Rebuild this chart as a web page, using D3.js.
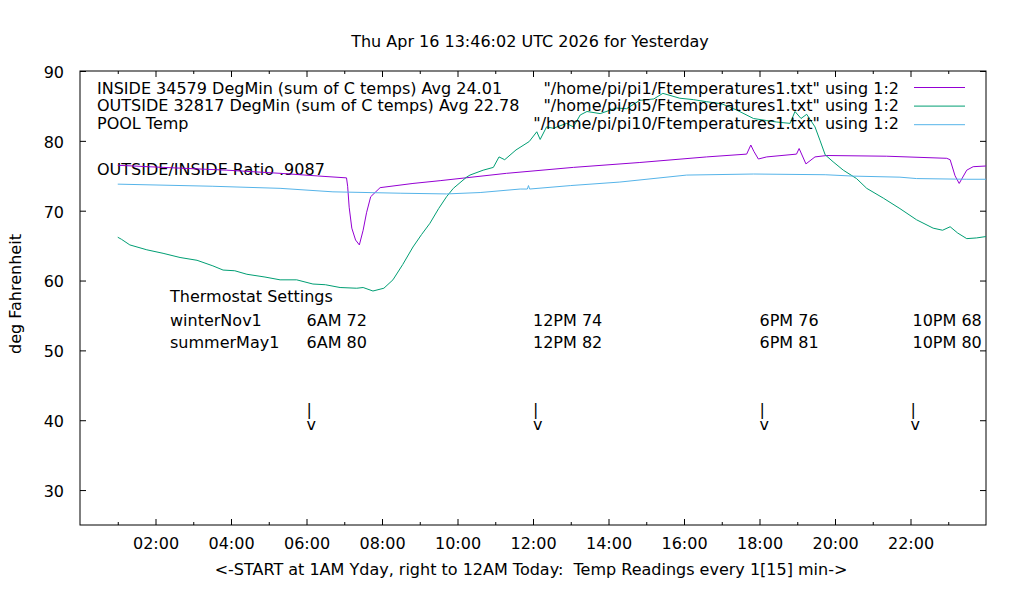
<!DOCTYPE html>
<html>
<head>
<meta charset="utf-8">
<script src="https://cdn.jsdelivr.net/npm/d3@7"></script>
<style>
  body { margin: 0; background: #fff; }
  svg { font-family: "DejaVu Sans", sans-serif; font-size: 16px; }
  text { fill: #000; white-space: pre; }
</style>
</head>
<body>
<div id="chart"></div>
<script>
// readings: [hour of day, deg F]
var insideTemps = [
  [1.00, 76.5], [2.20, 76.2], [3.89, 75.8], [5.30, 75.35], [6.49, 74.9], [7.06, 74.7],
  [7.09, 73.5], [7.13, 70.5], [7.20, 67.5], [7.30, 65.8], [7.40, 65.1], [7.50, 67.2], [7.59, 69.7],
  [7.70, 72.0], [7.95, 73.3], [8.82, 73.9], [9.54, 74.3], [11.30, 75.35], [13.07, 76.2],
  [14.83, 76.9], [16.60, 77.7], [17.66, 78.1], [17.77, 79.4], [17.85, 78.5], [17.97, 77.4],
  [18.19, 77.7], [18.98, 78.1], [19.05, 78.9], [19.23, 76.7], [19.47, 77.7], [19.78, 77.9],
  [21.37, 77.8], [22.96, 77.5], [23.05, 77.3], [23.18, 75.0], [23.29, 73.9], [23.49, 75.8],
  [23.66, 76.3], [24.00, 76.4]
];

var outsideTemps = [
  [1.00, 66.2], [1.10, 65.9], [1.32, 65.1], [1.77, 64.4], [2.20, 63.9], [2.65, 63.3],
  [3.10, 62.9], [3.52, 62.1], [3.79, 61.5], [4.10, 61.4], [4.42, 60.9], [4.90, 60.5],
  [5.30, 60.1], [5.74, 60.1], [6.17, 59.5], [6.50, 59.4], [6.89, 59.0], [7.33, 58.9],
  [7.50, 59.0], [7.76, 58.5], [8.05, 58.9], [8.29, 60.1], [8.55, 62.3], [8.82, 64.8],
  [9.05, 66.6], [9.27, 68.2], [9.50, 70.3], [9.71, 72.0], [9.89, 73.2], [10.24, 74.8],
  [10.33, 75.1], [10.68, 75.8], [10.95, 76.2], [11.10, 77.7], [11.25, 77.3], [11.55, 78.7],
  [11.90, 79.9], [12.10, 81.3], [12.19, 80.2], [12.36, 82.0], [12.54, 81.8], [12.89, 82.5],
  [13.07, 82.0], [13.25, 83.7], [13.43, 84.2], [13.78, 83.9], [14.21, 84.7], [14.48, 84.6],
  [14.83, 85.8], [15.20, 86.0], [15.44, 86.8], [15.89, 86.1], [16.25, 85.9], [16.60, 85.6],
  [17.00, 85.3], [17.40, 84.4], [17.84, 83.2], [18.19, 82.9], [18.45, 82.7], [18.81, 82.5],
  [18.94, 84.2], [19.10, 83.2], [19.25, 83.8], [19.47, 82.0], [19.60, 80.1], [19.74, 78.0],
  [19.95, 77.0], [20.22, 75.8], [20.57, 74.6], [20.84, 73.2], [21.28, 71.8], [21.72, 70.3],
  [22.16, 68.7], [22.60, 67.5], [22.85, 67.2], [23.05, 67.7], [23.25, 66.8], [23.49, 66.0],
  [23.75, 66.1], [24.00, 66.3]
];

var poolTemps = [
  [1.00, 73.8], [3.50, 73.5], [5.30, 73.2], [6.70, 72.7], [8.50, 72.5], [9.71, 72.4],
  [10.60, 72.6], [11.66, 73.1], [11.85, 73.1], [11.88, 73.6], [11.91, 73.1], [13.00, 73.6],
  [14.30, 74.1], [16.07, 75.1], [17.84, 75.25], [19.74, 75.15], [20.49, 74.95], [21.72, 74.8],
  [22.16, 74.6], [23.49, 74.5], [24.00, 74.5]
];

var hourTicks = [2, 4, 6, 8, 10, 12, 14, 16, 18, 20, 22];
var hourMinorTicks = [1, 3, 5, 7, 9, 11, 13, 15, 17, 19, 21, 23];
var tempTicks = [30, 40, 50, 60, 70, 80, 90];

var leftLabels = [
  "INSIDE 34579 DegMin (sum of C temps) Avg 24.01",
  "OUTSIDE 32817 DegMin (sum of C temps) Avg 22.78",
  "POOL Temp"
];
var keyLabels = [
  '"/home/pi/pi1/Ftemperatures1.txt" using 1:2',
  '"/home/pi/pi5/Ftemperatures1.txt" using 1:2',
  '"/home/pi/pi10/Ftemperatures1.txt" using 1:2'
];
var seriesColors = ["#9400d3", "#009e73", "#56b4e9"];

var setTimes = [6, 12, 18, 22];
var setNames = ["6AM", "12PM", "6PM", "10PM"];
var winterSet = [72, 74, 76, 68];
var summerSet = [80, 82, 81, 80];

var width = 1020, height = 600;
var margin = {top: 71, right: 34, bottom: 75, left: 80};

var svg = d3.select("#chart")
    .append("svg")
    .attr("width", width)
    .attr("height", height);

var x = d3.scaleLinear()
    .domain([0, 24])
    .range([margin.left, width - margin.right]);

var y = d3.scaleLinear()
    .domain([25, 90])
    .range([height - margin.bottom, margin.top]);

function hhmm(h) {
  return (h < 10 ? "0" : "") + h + ":00";
}

// axes, ticks pointing inward like gnuplot
svg.append("g")
    .attr("transform", "translate(0," + (height - margin.bottom) + ")")
    .call(d3.axisBottom(x).tickValues(hourTicks).tickFormat(hhmm).tickSize(-6).tickPadding(13))
    .call(g => g.select(".domain").remove());
svg.append("g")
    .attr("transform", "translate(0," + (height - margin.bottom) + ")")
    .call(d3.axisBottom(x).tickValues(hourMinorTicks).tickFormat("").tickSize(-3))
    .call(g => g.select(".domain").remove());
svg.append("g")
    .attr("transform", "translate(0," + margin.top + ")")
    .call(d3.axisTop(x).tickValues(hourTicks).tickFormat("").tickSize(-6))
    .call(g => g.select(".domain").remove());
svg.append("g")
    .attr("transform", "translate(0," + margin.top + ")")
    .call(d3.axisTop(x).tickValues(hourMinorTicks).tickFormat("").tickSize(-3))
    .call(g => g.select(".domain").remove());
svg.append("g")
    .attr("transform", "translate(" + margin.left + ",0)")
    .call(d3.axisLeft(y).tickValues(tempTicks).tickSize(-6).tickPadding(16))
    .call(g => g.select(".domain").remove())
    .selectAll("text").attr("dy", "0.4em");
svg.append("g")
    .attr("transform", "translate(" + (width - margin.right) + ",0)")
    .call(d3.axisRight(y).tickValues(tempTicks).tickFormat("").tickSize(-6))
    .call(g => g.select(".domain").remove());

svg.selectAll(".tick line").attr("stroke", "#000");
svg.selectAll(".tick text")
    .attr("font-family", "DejaVu Sans")
    .attr("font-size", 16)
    .attr("fill", "#000");

svg.append("rect")
    .attr("x", margin.left)
    .attr("y", margin.top)
    .attr("width", width - margin.left - margin.right)
    .attr("height", height - margin.top - margin.bottom)
    .attr("fill", "none")
    .attr("stroke", "#000")
    .attr("stroke-width", 1);

// titles
svg.append("text")
    .attr("x", 530).attr("y", 47)
    .attr("text-anchor", "middle")
    .text("Thu Apr 16 13:46:02 UTC 2026 for Yesterday");
svg.append("text")
    .attr("x", 531).attr("y", 575)
    .attr("text-anchor", "middle")
    .text("<-START at 1AM Yday, right to 12AM Today:  Temp Readings every 1[15] min->");
svg.append("text")
    .attr("transform", "translate(21,294) rotate(-90)")
    .attr("text-anchor", "middle")
    .text("deg Fahrenheit");

// labels
svg.selectAll(".leftlab")
    .data(leftLabels)
    .enter().append("text")
    .attr("class", "leftlab")
    .attr("x", 97)
    .attr("y", (d, i) => 93.5 + i * 17.9)
    .text(d => d);
svg.append("text")
    .attr("x", 97).attr("y", 175)
    .text("OUTSIDE/INSIDE Ratio .9087");

svg.append("text").attr("x", 170).attr("y", 302).text("Thermostat Settings");
svg.append("text").attr("x", 170).attr("y", 325.7).text("winterNov1");
svg.append("text").attr("x", 170).attr("y", 347.5).text("summerMay1");

svg.selectAll(".winter")
    .data(setTimes)
    .enter().append("text")
    .attr("x", (d, i) => x(d) + (i == 3 ? 2 : 0))
    .attr("y", 325.7)
    .text((d, i) => setNames[i] + " " + winterSet[i]);
svg.selectAll(".summer")
    .data(setTimes)
    .enter().append("text")
    .attr("x", (d, i) => x(d) + (i == 3 ? 2 : 0))
    .attr("y", 347.5)
    .text((d, i) => setNames[i] + " " + summerSet[i]);

// "|" over "v" arrow, one text each
var arrows = svg.selectAll(".arrow")
    .data(setTimes)
    .enter().append("text")
    .attr("class", "arrow")
    .attr("x", d => x(d))
    .attr("y", 415);
arrows.append("tspan").text("|");
arrows.append("tspan")
    .attr("x", d => x(d))
    .attr("dy", 14.5)
    .text("v");

// data lines
var line = d3.line()
    .x(d => x(d[0]))
    .y(d => y(d[1]));

[insideTemps, outsideTemps, poolTemps].forEach(function(series, i) {
  svg.append("path")
      .datum(series)
      .attr("fill", "none")
      .attr("stroke", seriesColors[i])
      .attr("stroke-width", 1)
      .attr("d", line);
});

// key
var key = svg.selectAll(".key")
    .data(keyLabels)
    .enter().append("g");
key.append("text")
    .attr("x", 899)
    .attr("y", (d, i) => 93.5 + i * 17.9)
    .attr("text-anchor", "end")
    .text(d => d);
key.append("line")
    .attr("x1", 914).attr("x2", 965)
    .attr("y1", (d, i) => 87.5 + i * 18.6)
    .attr("y2", (d, i) => 87.5 + i * 18.6)
    .attr("stroke", (d, i) => seriesColors[i])
    .attr("stroke-width", 1);
</script>
</body>
</html>
